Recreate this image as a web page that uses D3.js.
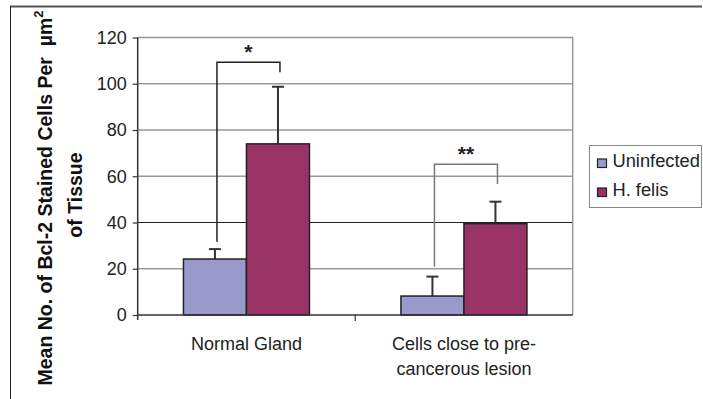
<!DOCTYPE html>
<html>
<head>
<meta charset="utf-8">
<script src="https://cdn.jsdelivr.net/npm/d3@7"></script>
<style>
  html, body { margin: 0; padding: 0; background: #fff; }
  svg { display: block; font-family: "Liberation Sans", Arial, sans-serif; }
</style>
</head>
<body>
<svg id="chart" width="703" height="399"></svg>
<script>
// Bcl-2 stained cells per µm² of tissue, by region and infection status
const categories = [["Normal Gland"], ["Cells close to pre-", "cancerous lesion"]];
const series = ["Uninfected", "H. felis"];
const uninfectedMean = [24.2, 8.2];
const uninfectedErr = [4.3, 8.4];
const felisMean = [74, 39.5];
const felisErr = [24.7, 9.5];
const yTicks = [0, 20, 40, 60, 80, 100, 120];
// significance brackets: level of the bar, left foot, right foot (data units)
const sigLabels = ["*", "**"];
const sigTop = [109.3, 65.2];
const sigLeftFoot = [31.7, 20.9];
const sigRightFoot = [105, 56.6];

const colors = ["#9999cc", "#993366"];
const means = [uninfectedMean, felisMean];
const errs = [uninfectedErr, felisErr];

const svg = d3.select("#chart");
const plot = { left: 137.7, right: 572.7, top: 37.5, bottom: 315 };

const x0 = d3.scaleBand().domain(d3.range(categories.length))
  .range([plot.left, plot.right]).paddingInner(0).paddingOuter(0);
const x1 = d3.scaleBand().domain(d3.range(series.length))
  .range([0, x0.bandwidth()]).paddingInner(0).paddingOuter(0.726);
const y = d3.scaleLinear().domain([0, 120]).range([plot.bottom, plot.top]);

// outer frame
svg.append("line").attr("x1", 10).attr("x2", 702).attr("y1", 6.5).attr("y2", 6.5)
  .attr("stroke", "#555").attr("stroke-width", 2);
svg.append("line").attr("x1", 10.5).attr("x2", 10.5).attr("y1", 6).attr("y2", 399)
  .attr("stroke", "#222").attr("stroke-width", 1);

// gridlines
svg.append("g").selectAll("line").data(yTicks.filter(d => d > 0)).join("line")
  .attr("x1", plot.left).attr("x2", plot.right)
  .attr("y1", d => y(d)).attr("y2", d => y(d))
  .attr("stroke", d => d === 40 ? "#222" : "#999").attr("stroke-width", d => d === 40 ? 1.2 : 1.5);

// right border of the plot area
svg.append("line").attr("x1", plot.right).attr("x2", plot.right)
  .attr("y1", plot.top - 0.75).attr("y2", plot.bottom)
  .attr("stroke", "#999").attr("stroke-width", 1.5);

// y axis
const yAxis = d3.axisLeft(y).tickValues(yTicks).tickSize(5).tickPadding(6).tickFormat(d3.format("d"));
const gy = svg.append("g").attr("transform", `translate(${plot.left},0)`).call(yAxis);
gy.select(".domain").remove();
gy.selectAll(".tick line").attr("stroke", "#333").attr("stroke-width", 1.2);
gy.selectAll(".tick text").attr("font-size", 18).attr("fill", "#222")
  .attr("font-family", "Liberation Sans, Arial, sans-serif");
svg.append("line").attr("x1", plot.left).attr("x2", plot.left)
  .attr("y1", plot.top).attr("y2", plot.bottom + 5)
  .attr("stroke", "#333").attr("stroke-width", 1.5);

// bars
const groups = svg.append("g").selectAll("g").data(categories).join("g")
  .attr("transform", (d, i) => `translate(${x0(i)},0)`);

groups.each(function (cat, ci) {
  const g = d3.select(this);
  series.forEach((s, si) => {
    const v = means[si][ci];
    const bx = x1(si);
    const cx = bx + x1.bandwidth() / 2;
    const top = y(v + errs[si][ci]);
    g.append("line").attr("x1", cx).attr("x2", cx).attr("y1", y(v)).attr("y2", top)
      .attr("stroke", "#333").attr("stroke-width", 2);
    g.append("line").attr("x1", cx - 6).attr("x2", cx + 6).attr("y1", top).attr("y2", top)
      .attr("stroke", "#333").attr("stroke-width", 2);
    g.append("rect").attr("x", bx).attr("y", y(v))
      .attr("width", x1.bandwidth()).attr("height", y(0) - y(v))
      .attr("fill", colors[si]).attr("stroke", "#222").attr("stroke-width", 1.5);
  });
});

// x axis baseline and category divider ticks
svg.append("line").attr("x1", plot.left).attr("x2", plot.right)
  .attr("y1", plot.bottom).attr("y2", plot.bottom)
  .attr("stroke", "#333").attr("stroke-width", 1.5);
svg.append("g").selectAll("line").data(d3.range(1, categories.length)).join("line")
  .attr("x1", d => x0(d)).attr("x2", d => x0(d))
  .attr("y1", plot.bottom).attr("y2", plot.bottom + 6)
  .attr("stroke", "#333").attr("stroke-width", 1.2);

// category labels
svg.append("g").selectAll("text").data(categories).join("text")
  .attr("x", (d, i) => x0(i) + x0.bandwidth() / 2)
  .attr("y", 350)
  .attr("text-anchor", "middle").attr("font-size", 18).attr("fill", "#222")
  .each(function (lines) {
    const t = d3.select(this);
    lines.forEach((ln, k) => {
      t.append("tspan").attr("x", t.attr("x")).attr("dy", k === 0 ? 0 : 25).text(ln);
    });
  });

// significance brackets
sigLabels.forEach((lab, ci) => {
  const xl = x0(ci) + x1(0) + x1.bandwidth() / 2 + 2;
  const xr = x0(ci) + x1(1) + x1.bandwidth() / 2 + 2;
  const col = ci === 0 ? "#222" : "#777";
  svg.append("path")
    .attr("d", `M${xl},${y(sigLeftFoot[ci])}V${y(sigTop[ci])}H${xr}V${y(sigRightFoot[ci])}`)
    .attr("fill", "none").attr("stroke", col).attr("stroke-width", 1.5);
  svg.append("text").attr("x", (xl + xr) / 2).attr("y", y(sigTop[ci]) - 3)
    .attr("text-anchor", "middle").attr("font-size", 21).attr("font-weight", "bold")
    .attr("fill", "#222").text(lab);
});

// y axis title
const title = svg.append("g").attr("font-weight", "bold").attr("font-size", 19.5).attr("fill", "#111");
const t1 = title.append("text").attr("transform", "translate(52,198) rotate(-90)")
  .attr("text-anchor", "middle");
t1.append("tspan").text("Mean No. of Bcl-2 Stained Cells Per\u00a0\u00a0µm");
t1.append("tspan").attr("font-size", 13).attr("dy", -9).text("2");
title.append("text").attr("transform", "translate(82,195) rotate(-90)")
  .attr("text-anchor", "middle").text("of Tissue");

// legend
const legend = svg.append("g");
legend.append("rect").attr("x", 589.5).attr("y", 145.5).attr("width", 112).attr("height", 62)
  .attr("fill", "#fff").attr("stroke", "#888").attr("stroke-width", 1);
series.forEach((s, i) => {
  const ly = 167 + i * 29;
  legend.append("rect").attr("x", 597.5).attr("y", ly - 8).attr("width", 9).attr("height", 8.5)
    .attr("fill", colors[i]).attr("stroke", "#222").attr("stroke-width", 1.2);
  legend.append("text").attr("x", 612.5).attr("y", ly).attr("font-size", 18.3).attr("fill", "#222").text(s);
});
</script>
</body>
</html>
